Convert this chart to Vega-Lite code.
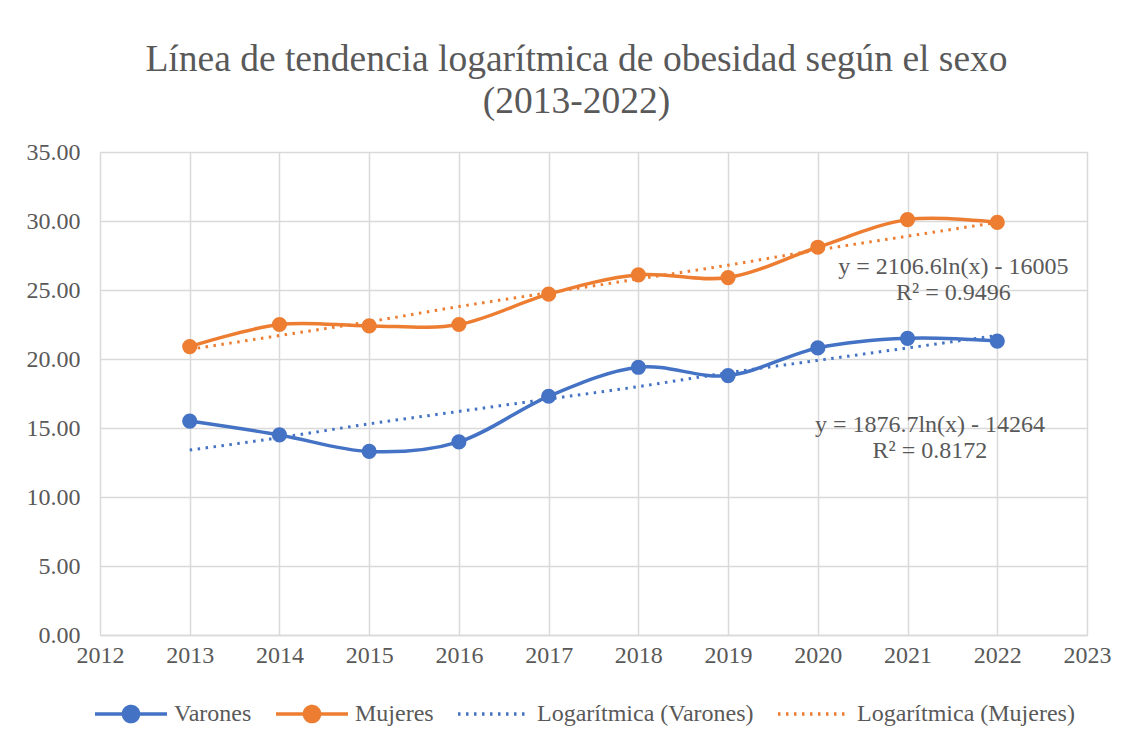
{
  "$schema": "https://vega.github.io/schema/vega-lite/v6.json",
  "autosize": "none",
  "width": 987,
  "height": 483,
  "padding": {"left": 100, "top": 152, "right": 46, "bottom": 107},
  "background": "white",
  "title": {
    "text": ["Línea de tendencia logarítmica de obesidad según el sexo", "(2013-2022)"],
    "font": "Liberation Serif",
    "fontSize": 37.5,
    "fontWeight": "normal",
    "color": "#595959",
    "lineHeight": 42,
    "anchor": "middle",
    "frame": "group",
    "dx": -17,
    "offset": 20
  },
  "datasets": {
    "series": [
      {"year": 2013, "value": 15.5, "series": "Varones"},
      {"year": 2014, "value": 14.5, "series": "Varones"},
      {"year": 2015, "value": 13.3, "series": "Varones"},
      {"year": 2016, "value": 14.0, "series": "Varones"},
      {"year": 2017, "value": 17.3, "series": "Varones"},
      {"year": 2018, "value": 19.4, "series": "Varones"},
      {"year": 2019, "value": 18.8, "series": "Varones"},
      {"year": 2020, "value": 20.8, "series": "Varones"},
      {"year": 2021, "value": 21.5, "series": "Varones"},
      {"year": 2022, "value": 21.3, "series": "Varones"},
      {"year": 2013, "value": 20.9, "series": "Mujeres"},
      {"year": 2014, "value": 22.5, "series": "Mujeres"},
      {"year": 2015, "value": 22.4, "series": "Mujeres"},
      {"year": 2016, "value": 22.5, "series": "Mujeres"},
      {"year": 2017, "value": 24.7, "series": "Mujeres"},
      {"year": 2018, "value": 26.1, "series": "Mujeres"},
      {"year": 2019, "value": 25.9, "series": "Mujeres"},
      {"year": 2020, "value": 28.1, "series": "Mujeres"},
      {"year": 2021, "value": 30.1, "series": "Mujeres"},
      {"year": 2022, "value": 29.9, "series": "Mujeres"},
      {"year": 2013, "value": 13.4, "series": "Logarítmica (Varones)"},
      {"year": 2014, "value": 14.3, "series": "Logarítmica (Varones)"},
      {"year": 2015, "value": 15.3, "series": "Logarítmica (Varones)"},
      {"year": 2016, "value": 16.2, "series": "Logarítmica (Varones)"},
      {"year": 2017, "value": 17.1, "series": "Logarítmica (Varones)"},
      {"year": 2018, "value": 18.0, "series": "Logarítmica (Varones)"},
      {"year": 2019, "value": 19.0, "series": "Logarítmica (Varones)"},
      {"year": 2020, "value": 19.9, "series": "Logarítmica (Varones)"},
      {"year": 2021, "value": 20.8, "series": "Logarítmica (Varones)"},
      {"year": 2022, "value": 21.7, "series": "Logarítmica (Varones)"},
      {"year": 2013, "value": 20.7, "series": "Logarítmica (Mujeres)"},
      {"year": 2014, "value": 21.7, "series": "Logarítmica (Mujeres)"},
      {"year": 2015, "value": 22.7, "series": "Logarítmica (Mujeres)"},
      {"year": 2016, "value": 23.8, "series": "Logarítmica (Mujeres)"},
      {"year": 2017, "value": 24.8, "series": "Logarítmica (Mujeres)"},
      {"year": 2018, "value": 25.8, "series": "Logarítmica (Mujeres)"},
      {"year": 2019, "value": 26.8, "series": "Logarítmica (Mujeres)"},
      {"year": 2020, "value": 27.9, "series": "Logarítmica (Mujeres)"},
      {"year": 2021, "value": 28.9, "series": "Logarítmica (Mujeres)"},
      {"year": 2022, "value": 29.9, "series": "Logarítmica (Mujeres)"}
    ],
    "notes": [
      {"year": 2021.51, "value": 26.67, "label": "y = 2106.6ln(x) - 16005"},
      {"year": 2021.51, "value": 24.78, "label": "R² = 0.9496"},
      {"year": 2021.25, "value": 15.22, "label": "y = 1876.7ln(x) - 14264"},
      {"year": 2021.25, "value": 13.33, "label": "R² = 0.8172"}
    ]
  },
  "data": {"name": "series"},
  "encoding": {
    "x": {
      "field": "year", "type": "quantitative",
      "scale": {"domain": [2012, 2023], "nice": false, "zero": false},
      "axis": {
        "title": null, "values": [2012,2013,2014,2015,2016,2017,2018,2019,2020,2021,2022,2023],
        "format": "d", "ticks": false, "domain": true, "domainColor": "#d9d9d9", "domainWidth": 1.5,
        "grid": true, "gridColor": "#d9d9d9", "gridWidth": 1.5,
        "labelFont": "Liberation Serif", "labelFontSize": 24, "labelColor": "#595959",
        "labelPadding": 8, "labelFlush": false, "labelOverlap": false
      }
    },
    "y": {
      "field": "value", "type": "quantitative",
      "scale": {"domain": [0, 35], "nice": false},
      "axis": {
        "title": null, "values": [0,5,10,15,20,25,30,35],
        "format": ".2f", "ticks": false, "domain": false,
        "grid": true, "gridColor": "#d9d9d9", "gridWidth": 1.5,
        "labelFont": "Liberation Serif", "labelFontSize": 24, "labelColor": "#595959",
        "labelPadding": 20
      }
    },
    "color": {
      "field": "series", "type": "nominal",
      "scale": {
        "domain": ["Varones", "Mujeres", "Logarítmica (Varones)", "Logarítmica (Mujeres)"],
        "range": ["#4472C4", "#ED7D31", "#4472C4", "#ED7D31"]
      },
      "legend": {
        "title": null, "orient": "none", "legendX": -7, "legendY": 524,
        "direction": "horizontal", "columns": 4, "gridAlign": "none",
        "columnPadding": 17, "symbolSize": 5184, "symbolStrokeWidth": 3.5,
        "labelFont": "Liberation Serif", "labelFontSize": 24, "labelColor": "#595959",
        "labelOffset": 5, "labelLimit": 400,
        "encode": {
          "symbols": {
            "update": {
              "shape": {"signal": "indexof(datum.value, 'Log') === 0 ? 'M-1,0H1' : 'M-1,0H1M0.21,0A0.21,0.21 0 1 1 -0.21,0A0.21,0.21 0 1 1 0.21,0Z'"},
              "fill": {"signal": "datum.value === 'Varones' ? '#4472C4' : datum.value === 'Mujeres' ? '#ED7D31' : 'transparent'"},
              "stroke": {"signal": "indexof(datum.value, 'Varones') >= 0 ? '#4472C4' : '#ED7D31'"},
              "strokeDash": {"signal": "indexof(datum.value, 'Log') === 0 ? [2.5, 5.5] : [1, 0]"},
              "strokeWidth": {"value": 3.5},
              "opacity": {"value": 1}
            }
          }
        }
      }
    }
  },
  "layer": [
    {
      "transform": [{"filter": "indexof(datum.series, 'Log') === 0"}],
      "mark": {"type": "line", "strokeWidth": 3, "strokeDash": [2.5, 5.5], "interpolate": "monotone"}
    },
    {
      "transform": [{"filter": "indexof(datum.series, 'Log') !== 0"}],
      "mark": {"type": "line", "strokeWidth": 3.5, "interpolate": "cardinal"}
    },
    {
      "transform": [{"filter": "indexof(datum.series, 'Log') !== 0"}],
      "mark": {"type": "point", "shape": "circle", "filled": true, "size": 230, "opacity": 1}
    },
    {
      "data": {"name": "notes"},
      "mark": {"type": "text", "font": "Liberation Serif", "fontSize": 24, "color": "#595959", "align": "center", "baseline": "middle"},
      "encoding": {
        "x": {"field": "year", "type": "quantitative"},
        "y": {"field": "value", "type": "quantitative"},
        "text": {"field": "label"},
        "color": {"value": "#595959"}
      }
    }
  ]
}
